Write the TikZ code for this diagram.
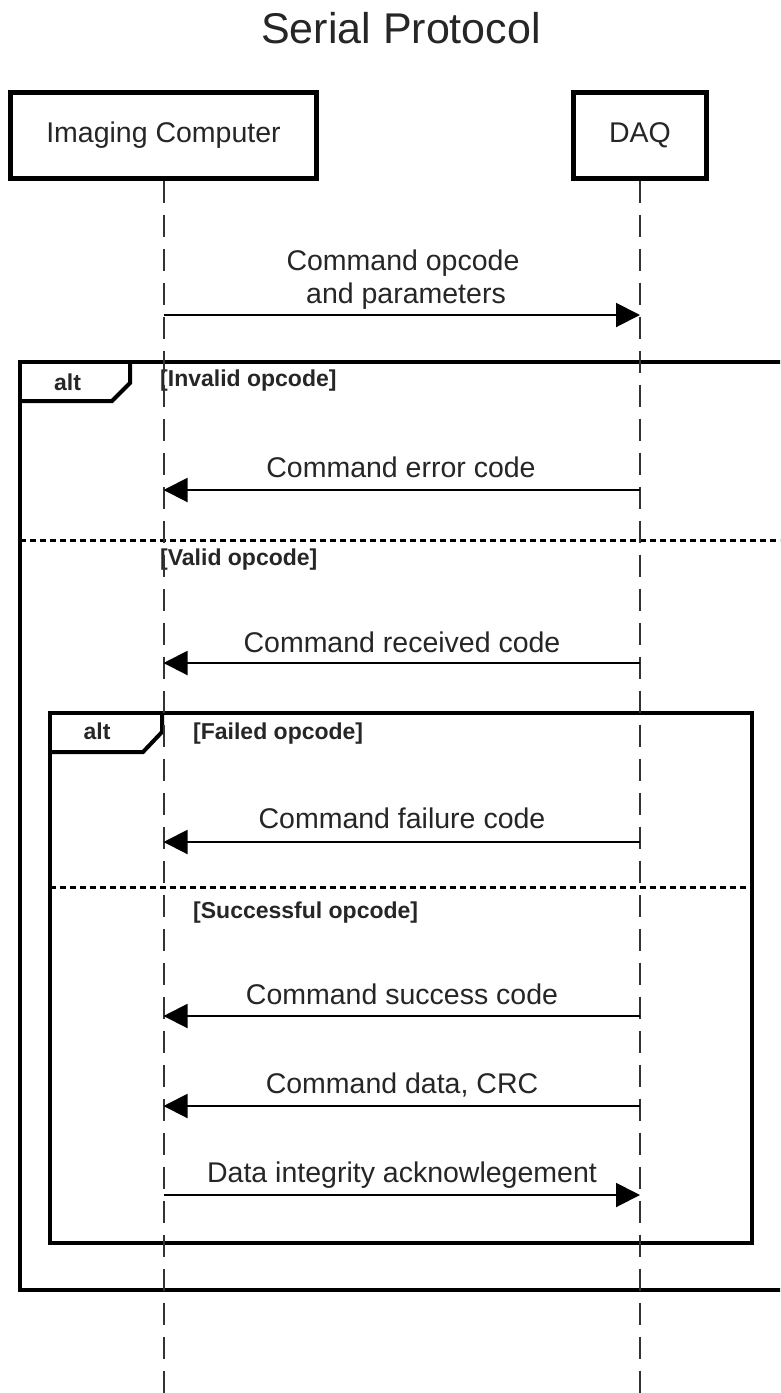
\documentclass[tikz,border=0pt]{standalone}
\usepackage{fontspec}
\setmainfont{Liberation Sans}
\usetikzlibrary{arrows.meta}
\begin{document}
\begin{tikzpicture}[x=1pt,y=-1pt,
  actor/.style={draw=black, line width=5pt, minimum height=86pt, inner sep=0pt, font=\fontsize{28.5}{32}\selectfont, text=black!85},
  lifeline/.style={draw=black!80, line width=2pt, dash pattern=on 22pt off 12pt},
  msg/.style={draw=black, line width=2pt, -{Triangle[length=24pt,width=24pt]}},
  lbl/.style={font=\fontsize{28.5}{32}\selectfont, text=black!85, anchor=base, inner sep=0pt},
  frame/.style={draw=black, line width=4pt},
  sep/.style={draw=black, line width=3pt, dash pattern=on 6pt off 4pt},
  guard/.style={font=\bfseries\fontsize{23}{26}\selectfont, text=black!85, anchor=base west, inner sep=0pt},
  fraglbl/.style={font=\bfseries\fontsize{23}{26}\selectfont, text=black!85, anchor=base, inner sep=0pt},
]
\path[use as bounding box] (0,0) rectangle (780,1393);
\clip (0,0) rectangle (780,1393);
\fill[white] (0,0) rectangle (780,1393);

% title
\node[font=\fontsize{43}{48}\selectfont, text=black!85, anchor=base, inner sep=0pt] (title) at (401,43) {Serial Protocol};

% actors
\node[actor, minimum width=306pt] (ic) at (163.5,135) {Imaging Computer};
\node[actor, minimum width=133pt] (daq) at (640,135) {DAQ};
\coordinate (icEnd) at (163.5,1393);
\coordinate (daqEnd) at (640,1393);

% frames
\draw[frame] (20,362) rectangle (800,1290);
\draw[frame] (20,401) -- (112,401) -- (130,383) -- (130,362);
\node[fraglbl] (alt1) at (67.5,390) {alt};
\node[guard] (g1) at (160,386) {[Invalid opcode]};
\draw[sep] (20,540) -- (800,540);
\node[guard] (g2) at (160,565) {[Valid opcode]};

\draw[frame] (50,713) rectangle (752,1243);
\draw[frame] (50,752) -- (143,752) -- (162,732) -- (162,713);
\node[fraglbl] (alt2) at (97,739) {alt};
\node[guard] (g3) at (193,739) {[Failed opcode]};
\draw[sep] (50,887) -- (752,887);
\node[guard] (g4) at (193,918) {[Successful opcode]};

% lifelines
\draw[lifeline] (ic.south) -- (icEnd);
\draw[lifeline] (daq.south) -- (daqEnd);

% message anchor points
\foreach \n/\y in {1/315,2/490,3/663,4/842,5/1016,6/1106,7/1195}{
  \coordinate (L\n) at (163.5,\y);
  \coordinate (R\n) at (640,\y);
}

% messages
\draw[msg] (L1) -- (R1);
\node[lbl] (t1a) at (403,270) {Command opcode};
\node[lbl] (t1b) at (406,303) {and parameters};

\draw[msg] (R2) -- (L2);
\node[lbl] (t2) at (401,477) {Command error code};

\draw[msg] (R3) -- (L3);
\node[lbl] (t3) at (402,652) {Command received code};

\draw[msg] (R4) -- (L4);
\node[lbl] (t4) at (402,828) {Command failure code};

\draw[msg] (R5) -- (L5);
\node[lbl] (t5) at (402,1004) {Command success code};

\draw[msg] (R6) -- (L6);
\node[lbl] (t6) at (402,1093) {Command data, CRC};

\draw[msg] (L7) -- (R7);
\node[lbl] (t7) at (402,1182) {Data integrity acknowlegement};
\end{tikzpicture}
\end{document}
